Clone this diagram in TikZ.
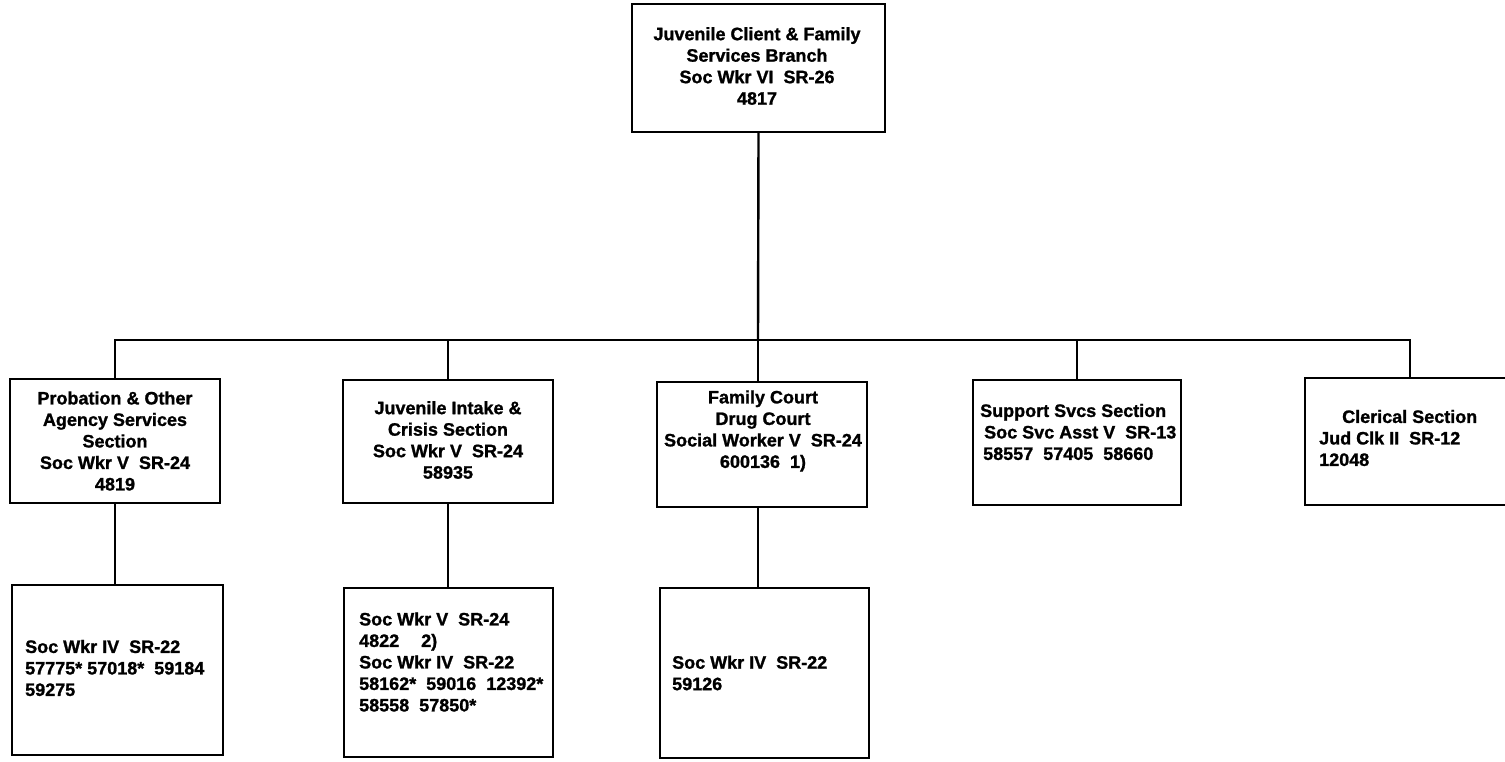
\documentclass[tikz,border=0pt]{standalone}
\usepackage{fontspec}
\setmainfont{Liberation Sans}[BoldFeatures={FakeBold=1.2}]
\begin{document}
\begin{tikzpicture}[x=1pt,y=-1pt,
  orgbox/.style={draw, line width=2.4pt, inner sep=0pt},
  link/.style={line width=2.4pt},
  txt/.style={inner sep=0pt, font=\fontsize{18}{21.5}\selectfont\bfseries},
  txtc/.style={txt, align=center},
  txtl/.style={txt, align=left, anchor=west}]
\useasboundingbox (0,0) rectangle (1505,762);
\clip (0,0) rectangle (1505,762);
\fill[white] (0,0) rectangle (1505,762);

% boxes
\node[orgbox, minimum width=253pt, minimum height=128pt] (top) at (758.5,68) {};
\node[orgbox, minimum width=210pt, minimum height=124pt] (c1) at (115,441) {};
\node[orgbox, minimum width=210pt, minimum height=123pt] (c2) at (448,441.5) {};
\node[orgbox, minimum width=210pt, minimum height=125pt] (c3) at (762,444.5) {};
\node[orgbox, minimum width=208pt, minimum height=125pt] (c4) at (1077,442.5) {};
\node[orgbox, minimum width=210pt, minimum height=127pt] (c5) at (1410,441.5) {};
\node[orgbox, minimum width=211pt, minimum height=170pt] (b1) at (117.5,670) {};
\node[orgbox, minimum width=209pt, minimum height=169pt] (b2) at (448.5,672.5) {};
\node[orgbox, minimum width=209pt, minimum height=170pt] (b3) at (764.5,673) {};

% texts
\node[txtc] (ttop) at (757,66) {Juvenile Client \& Family\\Services Branch\\Soc Wkr VI\ \ SR-26\\4817};
\node[txtc] (tc1) at (115,441) {Probation \& Other\\Agency Services\\Section\\Soc Wkr V\ \ SR-24\\4819};
\node[txtc] (tc2) at (448,440) {Juvenile Intake \&\\Crisis Section\\Soc Wkr V\ \ SR-24\\58935};
\node[txtc] (tc3) at (763,431) {Family Court\\Drug Court\\Social Worker V\ \ SR-24\\600136\ \ 1)};
\node[txtl] (tc4) at (980,432) {Support Svcs Section\\\hspace*{4pt}Soc Svc Asst V\ \ SR-13\\\hspace*{3pt}58557\ \ 57405\ \ 58660};
\node[txtl] (tc5) at (1319,438) {\hspace*{23pt}Clerical Section\\Jud Clk II\ \ SR-12\\12048};
\node[txtl] (tb1) at (25,668) {Soc Wkr IV\ \ SR-22\\57775* 57018*\ \ 59184\\59275};
\node[txtl] (tb2) at (359,662) {Soc Wkr V\ \ SR-24\\4822\hspace{22pt}2)\\Soc Wkr IV\ \ SR-22\\58162*\ \ 59016\ \ 12392*\\58558\ \ 57850*};
\node[txtl] (tb3) at (672,673) {Soc Wkr IV\ \ SR-22\\59126};

% connectors
\coordinate (bus) at (758,340);
\draw[link] (top.south) -- (bus);
\draw[link] (c1.north) |- (bus);
\draw[link] (c5.north) |- (bus);
\draw[link] (c2.north) -- (c2.north |- bus);
\draw[link] (c3.north -| bus) -- (bus);
\draw[link] (c4.north) -- (c4.north |- bus);
\draw[link] (c1.south) -- (c1.south |- b1.north);
\draw[link] (c2.south) -- (c2.south |- b2.north);
\draw[link] (c3.south -| bus) -- (b3.north -| bus);
\end{tikzpicture}
\end{document}
